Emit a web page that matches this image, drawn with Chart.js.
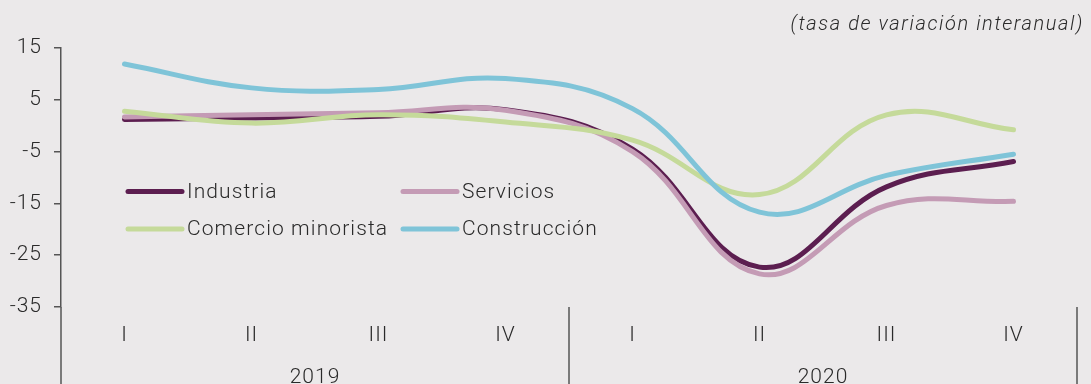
<!DOCTYPE html>
<html>
<head>
<meta charset="utf-8">
<script src="https://cdn.jsdelivr.net/npm/chart.js@4.4.0/dist/chart.umd.min.js"></script>
<style>
  html, body { margin: 0; padding: 0; background: #ebe9ea; }
  #wrap { width: 1091px; height: 384px; position: relative; }
</style>
</head>
<body>
<div id="wrap"><canvas id="chart"></canvas></div>
<script>
// quarterly year-on-year rates, 2019-2020
const quarters = ["I", "II", "III", "IV", "I", "II", "III", "IV"];
const years = ["2019", "2020"];
const yTicks = [15, 5, -5, -15, -25, -35];

const industria    = [1.2, 1.5, 1.8, 3.1, -4.5, -27.3, -11.8, -6.9];
const servicios    = [1.7, 2.1, 2.5, 3.0, -5.0, -28.6, -15.4, -14.6];
const comercio     = [2.8, 0.5, 2.1, 0.7, -2.8, -13.3, 2.1, -0.8];
const construccion = [11.9, 7.3, 7.0, 9.1, 3.3, -16.7, -9.6, -5.5];

const seriesNames = ["Industria", "Servicios", "Comercio minorista", "Construcción"];
const seriesColors = ["#5c1e50", "#c49bb5", "#c5da9a", "#7fc4d8"];
const subtitle = "(tasa de variación interanual)";

const FONT = "Roboto, 'Noto Sans', sans-serif";
const INK = "#2a2a2a";
const AXIS = "#555555";

function makeSet(i, values) {
  return {
    label: seriesNames[i],
    data: values,
    borderColor: seriesColors[i],
    backgroundColor: seriesColors[i],
    borderWidth: 5,
    borderCapStyle: "round",
    pointRadius: 0,
    tension: 0.4,
    fill: false,
    order: 4 - i
  };
}

// slightly tracked-out text everywhere
const spacing = {
  id: "spacing",
  beforeDraw(chart) { chart.ctx.letterSpacing = "1px"; }
};

// separators, year labels, subtitle and the in-plot legend
const decor = {
  id: "decor",
  afterDraw(chart) {
    const ctx = chart.ctx;
    const area = chart.chartArea;
    const x = chart.scales.x;
    const h = chart.height;
    ctx.save();

    ctx.strokeStyle = AXIS;
    ctx.lineWidth = 1.5;
    const mid = (x.getPixelForValue(3) + x.getPixelForValue(4)) / 2;
    [area.left, mid, area.right].forEach(px => {
      ctx.beginPath();
      ctx.moveTo(px, area.bottom);
      ctx.lineTo(px, h);
      ctx.stroke();
    });

    ctx.fillStyle = INK;
    ctx.letterSpacing = "1px";
    ctx.font = "300 21px " + FONT;
    ctx.textAlign = "center";
    ctx.textBaseline = "middle";
    years.forEach((yr, k) => {
      const a = x.getPixelForValue(k * 4);
      const b = x.getPixelForValue(k * 4 + 3);
      ctx.fillText(yr, (a + b) / 2, 378);
    });

    ctx.letterSpacing = "1.6px";
    ctx.font = "italic 300 20px " + FONT;
    ctx.textAlign = "right";
    ctx.fillText(subtitle, 1084, 25);

    const cols = [128, 403];
    const rows = [191.5, 229];
    ctx.letterSpacing = "1.1px";
    ctx.font = "300 21px " + FONT;
    ctx.textAlign = "left";
    seriesNames.forEach((name, i) => {
      const lx = cols[i % 2];
      const ly = rows[Math.floor(i / 2)];
      ctx.strokeStyle = seriesColors[i];
      ctx.lineWidth = 5;
      ctx.lineCap = "round";
      ctx.beginPath();
      ctx.moveTo(lx, ly);
      ctx.lineTo(lx + 54, ly);
      ctx.stroke();
      ctx.fillText(name, lx + 59, ly + 1);
    });
    ctx.restore();
  }
};

new Chart(document.getElementById("chart"), {
  type: "line",
  data: {
    labels: quarters,
    datasets: [
      makeSet(0, industria),
      makeSet(1, servicios),
      makeSet(2, comercio),
      makeSet(3, construccion)
    ]
  },
  options: {
    responsive: true,
    maintainAspectRatio: false,
    animation: false,
    layout: { padding: { top: 48, right: 14, left: 0, bottom: 0 } },
    plugins: {
      legend: { display: false },
      title: { display: false },
      tooltip: { enabled: false }
    },
    scales: {
      x: {
        type: "category",
        offset: true,
        grid: { display: false, drawTicks: false },
        border: { display: false },
        ticks: { color: INK, font: { family: FONT, size: 21, weight: "300" }, padding: 16, maxRotation: 0, autoSkip: false },
        afterFit: s => { s.height = 77; }
      },
      y: {
        min: -35,
        max: 15,
        afterBuildTicks: s => { s.ticks = yTicks.map(v => ({ value: v })); },
        grid: {
          drawOnChartArea: true,
          drawTicks: true,
          tickLength: 7,
          tickColor: AXIS,
          lineWidth: 1.5,
          color: c => (c.tick && c.tick.value === 0 ? AXIS : "rgba(0,0,0,0)")
        },
        border: { display: true, color: AXIS, width: 1.5 },
        ticks: { color: INK, font: { family: FONT, size: 21, weight: "300" }, padding: 12 },
        afterFit: s => { s.width = 61; }
      }
    }
  },
  plugins: [spacing, decor]
});
</script>
</body>
</html>
